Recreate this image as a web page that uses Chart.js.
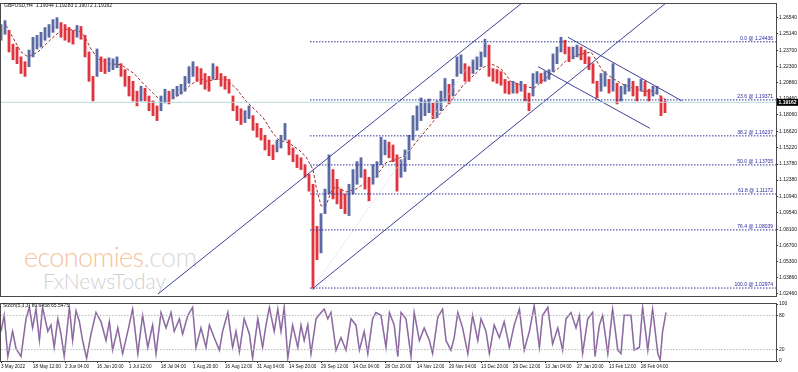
<!DOCTYPE html>
<html>
<head>
<meta charset="utf-8">
<script src="https://cdn.jsdelivr.net/npm/chart.js@4.4.0/dist/chart.umd.min.js"></script>
<style>
html, body { margin: 0; padding: 0; background: #fff; }
#wrap { position: relative; width: 798px; height: 372px; overflow: hidden; font-family: "Liberation Sans", Arial, sans-serif; }
#main { position: absolute; left: 0; top: 0; }
#osc { position: absolute; left: 0; top: 300px; }
.txt { position: absolute; white-space: nowrap; font-size: 5px; color: #111; }
.wm1 { position: absolute; left: 24px; top: 240px; font-family: Lato, "Open Sans", sans-serif; font-weight: 300; font-size: 27px; color: #f6c3a0; letter-spacing: -0.6px; }
.wm1 span { color: #dadada; }
.wm2 { position: absolute; left: 43px; top: 268px; font-family: Lato, "Open Sans", sans-serif; font-weight: 300; font-size: 21px; color: #d0d0d0; }
</style>
</head>
<body>
<div id="wrap">
  <div class="wm1">economies<span>.com</span></div>
  <div class="wm2">FxNewsToday</div>
  <canvas id="main" width="798" height="300"></canvas>
  <canvas id="osc" width="798" height="72"></canvas>
  <div class="txt" style="left:4px;top:2px;">GBPUSD,H4&nbsp; 1.19044 1.19283 1.19072 1.19162</div>
  <div class="txt" style="left:3px;top:302px;">Stoch(5,3,3) 80.6458 65.5475</div>
</div>
<script>
// GBPUSD H4, one column per 4px slot (roughly 8 H4 bars each)
const highs = [
  1.2594,1.2628,1.2543,1.2423,1.2398,1.2312,1.2270,1.2372,1.2483,1.2500,
  1.2526,1.2568,1.2594,1.2637,1.2654,1.2611,1.2594,1.2568,1.2543,1.2586,
  1.2577,1.2500,1.2355,1.2142,1.2381,1.2312,1.2295,1.2304,1.2295,1.2312,
  1.2253,1.2201,1.2142,1.2099,1.2013,1.2056,1.2039,1.1971,1.1928,1.1885,
  1.1971,1.2030,1.2013,1.2030,1.2056,1.2073,1.2142,1.2227,1.2270,1.2227,
  1.2210,1.2167,1.2142,1.2253,1.2227,1.2167,1.2142,1.2116,1.1971,1.1885,
  1.1860,1.1843,1.1885,1.1800,1.1732,1.1689,1.1629,1.1587,1.1544,1.1587,
  1.1629,1.1732,1.1587,1.1518,1.1458,1.1433,1.1373,1.1288,1.1202,1.0835,
  1.0946,1.1160,1.1458,1.1330,1.1245,1.1160,1.1117,1.1202,1.1330,1.1399,
  1.1433,1.1330,1.1262,1.1373,1.1399,1.1612,1.1587,1.1569,1.1544,1.1458,
  1.1416,1.1501,1.1629,1.1800,1.1885,1.1954,1.1928,1.1945,1.1911,1.1928,
  1.2013,1.2124,1.2073,1.2116,1.2312,1.2329,1.2253,1.2227,1.2287,1.2312,
  1.2355,1.2466,1.2415,1.2210,1.2201,1.2184,1.2116,1.2099,1.2099,1.2082,
  1.2099,1.2073,1.1996,1.2167,1.2184,1.2167,1.2184,1.2201,1.2338,1.2398,
  1.2483,1.2457,1.2398,1.2398,1.2415,1.2398,1.2372,1.2312,1.2253,1.2099,
  1.2167,1.2184,1.2116,1.2253,1.2082,1.2056,1.2073,1.2124,1.2099,1.2056,
  1.2116,1.2099,1.2030,1.2056,1.2056,1.1971,1.1928
];
const lows = [
  1.2457,1.2509,1.2355,1.2287,1.2253,1.2167,1.2142,1.2227,1.2312,1.2381,
  1.2398,1.2457,1.2483,1.2526,1.2560,1.2483,1.2457,1.2440,1.2423,1.2483,
  1.2466,1.2312,1.2099,1.1928,1.2142,1.2184,1.2167,1.2184,1.2201,1.2218,
  1.2142,1.2056,1.1971,1.1928,1.1885,1.1928,1.1928,1.1843,1.1800,1.1757,
  1.1843,1.1911,1.1902,1.1945,1.1971,1.1988,1.2013,1.2082,1.2142,1.2099,
  1.2073,1.2030,1.2013,1.2116,1.2116,1.2056,1.2030,1.1996,1.1843,1.1757,
  1.1723,1.1740,1.1774,1.1672,1.1612,1.1587,1.1501,1.1450,1.1416,1.1484,
  1.1518,1.1587,1.1458,1.1399,1.1347,1.1330,1.1262,1.1142,1.0289,1.0545,
  1.0604,1.0946,1.1117,1.1074,1.1031,1.0989,1.0946,1.0929,1.1117,1.1202,
  1.1262,1.1160,1.1057,1.1202,1.1262,1.1373,1.1458,1.1433,1.1399,1.1142,
  1.1262,1.1313,1.1416,1.1587,1.1672,1.1757,1.1800,1.1826,1.1774,1.1783,
  1.1843,1.1928,1.1902,1.1971,1.2142,1.2167,1.2099,1.2099,1.2167,1.2201,
  1.2227,1.2312,1.2142,1.2099,1.2082,1.2065,1.1996,1.1988,1.1996,1.1996,
  1.2013,1.1928,1.1843,1.1971,1.2082,1.2082,1.2099,1.2116,1.2184,1.2253,
  1.2355,1.2338,1.2270,1.2295,1.2312,1.2287,1.2253,1.2201,1.2082,1.1954,
  1.2013,1.2056,1.1996,1.2013,1.1902,1.1928,1.1988,1.2013,1.1971,1.1928,
  1.2013,1.1971,1.1928,1.1971,1.1988,1.1800,1.1826
];

// moving average (dashed)
const maPos = [1.25,5,6.75,9.25,12.5,15,16.75,19.25,20.75,22.5,24.25,26.75,30,33.25,35.75,39.25,40.75,42.5,45,47.5,
  50,51.25,53.75,56.25,58.75,61.25,63,65.5,68,69.5,72,74.5,76.25,78,78.75,80,81.25,82.5,83.75,86.25,
  88.75,91.25,93.75,96.25,98.75,101.25,104.25,108.25,112.5,115.75,120,122.5,125,127.5,130.75,133.25,135.75,139.25,141.75,144.25,
  147.5,148.75,150.5,153,155.5,158,160.5,163,165.5,166.75];
const maVal = [1.2586,1.2355,1.2312,1.2355,1.2466,1.2543,1.2551,1.2543,1.2500,1.2381,1.2295,1.2253,1.2244,1.2167,1.2073,1.1954,1.1911,1.1945,1.1988,1.2073,
  1.2124,1.2099,1.2116,1.2116,1.2039,1.1928,1.1868,1.1783,1.1646,1.1587,1.1561,1.1501,1.1441,1.1330,1.1185,1.1014,1.1014,1.1134,1.1185,1.1134,
  1.1160,1.1219,1.1270,1.1390,1.1416,1.1458,1.1587,1.1757,1.1928,1.2073,1.2210,1.2253,1.2210,1.2099,1.2056,1.2039,1.2116,1.2210,1.2295,1.2329,
  1.2355,1.2287,1.2184,1.2124,1.2073,1.2039,1.2013,1.2013,1.1954,1.1928];

// drawn objects: [x1, p1, x2, p2]
const channelLines = [
  [39.25, 1.0246, 130.25, 1.2782],
  [77.75, 1.0288, 166.25, 1.2782],
  [141.75, 1.2483, 170.25, 1.1928],
  [134.25, 1.2227, 162.25, 1.1689]
];
const fibStart = 77.25;
const fibNames = ["0.0", "23.6", "38.2", "50.0", "61.8", "76.4", "100.0"];
const fibPrices = [1.24436, 1.19371, 1.16237, 1.13705, 1.11172, 1.08039, 1.02974];
const fibBase = [77.75, 1.0289, 121.5, 1.2466];
const lastPrice = 1.19162;

const priceTicks = [1.26540,1.25140,1.23700,1.22300,1.20860,1.19460,1.18060,1.16620,1.15220,1.13780,
  1.12380,1.10940,1.09540,1.08100,1.06700,1.05300,1.03860,1.02460];
const timeLabels = ["3 May 2022","18 May 12:00","2 Jun 04:00","16 Jun 20:00","1 Jul 12:00","18 Jul 04:00",
  "1 Aug 20:00","16 Aug 12:00","31 Aug 04:00","14 Sep 20:00","29 Sep 12:00","14 Oct 04:00","28 Oct 20:00",
  "14 Nov 12:00","29 Nov 04:00","13 Dec 20:00","29 Dec 12:00","13 Jan 04:00","27 Jan 20:00","13 Feb 12:00","28 Feb 04:00"];

// stochastic %K turning points
const stochPos = [0,0.8,1.7,2.9,3.75,5,6.25,7.1,7.9,8.75,9.6,10.4,11.7,12.5,13.3,14.2,15,15.8,17.1,17.9,
  18.75,19.6,20.4,21.4,22.5,23.75,25,26.25,27.1,27.9,29.2,30.4,31.7,32.9,34.2,35.4,36.7,37.9,38.75,40,
  41.25,42.5,43.3,44.6,45.4,46.7,47.9,48.75,50,51.25,52.1,53.3,54.6,55.4,56.7,57.9,58.75,59.6,60.8,62.1,
  62.9,64.2,65.4,66.25,67.1,68.3,69.2,70,70.8,71.7,72.9,74.2,75,75.8,76.7,77.5,78.75,80,80.8,81.7,
  82.5,83.75,85,86.25,87.5,88.75,89.6,90.8,91.7,92.9,93.75,95,96.25,97.1,98.3,99.2,
  100,101.25,102.5,103.3,104.6,105.8,107.1,107.9,109.2,110.4,111.25,112.5,113.3,114.2,115.4,116.7,117.9,119.2,120,121.25,
  122.1,123.3,124.6,125.8,127.1,128.3,129.6,130.8,132.1,133.3,134.6,135.4,136.7,137.9,139.2,140.4,141.25,142.5,143.75,144.6,
  145.4,146.7,147.9,148.5,149.6,150.4,151.7,152.9,154.2,155,155.8,157.5,158.3,159.6,160.4,161.7,162.9,164.2,164.8,165.4,166.25];
const stochMain = [52,80,8,52,22,8,74,94,58,91,36,94,52,63,24,74,47,8,94,36,
  88,69,36,5,47,85,69,36,69,19,58,13,52,91,13,80,24,63,13,85,
  58,85,52,74,47,80,94,24,58,24,63,41,19,52,85,24,52,16,74,47,
  5,74,24,63,94,52,91,52,94,5,63,24,63,36,63,13,74,85,91,74,
  85,19,41,19,74,63,19,52,13,74,85,80,24,85,63,8,
  85,74,8,85,36,58,36,13,77,91,36,19,41,85,58,13,80,36,74,52,
  13,63,41,69,24,63,91,19,52,97,24,80,94,30,58,19,74,85,58,80,
  13,74,85,8,63,80,13,91,19,13,80,80,19,24,94,19,91,13,2,52,85];
const stochLevels = [20, 80];

const X_MIN = 0, X_MAX = 193.75;
const FONT = "Liberation Sans";

const candles = highs.map((h, i) => ({ x: i, y: [lows[i], h] }));
const candleColors = highs.map((h, i) =>
  i > 0 && (h + lows[i]) < (highs[i - 1] + lows[i - 1]) ? "#e0343f" : "#5c6aa4");

const lineSet = (pts, color, extra) => Object.assign({
  type: "line", data: pts, borderColor: color, borderWidth: 1,
  pointRadius: 0, tension: 0, fill: false
}, extra || {});

const framePlugin = {
  id: "frame",
  afterDraw(chart) {
    const { ctx, chartArea: a } = chart;
    ctx.save();
    ctx.strokeStyle = "#4a4a4a";
    ctx.lineWidth = 1;
    ctx.strokeRect(a.left - 0.5, a.top - 0.5, a.right - a.left + 1, a.bottom - a.top + 1);
    ctx.restore();
  }
};

const fibTextPlugin = {
  id: "fibText",
  afterDatasetsDraw(chart) {
    const { ctx, chartArea: a, scales } = chart;
    ctx.save();
    ctx.font = "5px " + FONT;
    ctx.fillStyle = "#26269a";
    ctx.textAlign = "right";
    ctx.textBaseline = "bottom";
    fibPrices.forEach((p, k) => {
      const y = scales.y.getPixelForValue(p);
      ctx.fillText(fibNames[k] + " @ " + p.toFixed(5), a.right - 3, y - 0.5);
    });
    // last price box on the axis
    const y = scales.y.getPixelForValue(lastPrice);
    ctx.fillStyle = "#000";
    ctx.fillRect(a.right + 1, y - 3.5, 21, 7);
    ctx.fillStyle = "#fff";
    ctx.textAlign = "left";
    ctx.textBaseline = "middle";
    ctx.font = "bold 5px " + FONT;
    ctx.fillText(lastPrice.toFixed(5), a.right + 2.5, y + 0.5);
    ctx.restore();
  }
};

const mainSets = [];
mainSets.push(lineSet([{ x: X_MIN, y: lastPrice }, { x: X_MAX, y: lastPrice }], "#b5dada"));
fibPrices.forEach(p => mainSets.push(lineSet([{ x: fibStart, y: p }, { x: X_MAX, y: p }], "#30309c", { borderDash: [1.5, 1.5] })));
mainSets.push(lineSet([{ x: fibBase[0], y: fibBase[1] }, { x: fibBase[2], y: fibBase[3] }], "#d4d6e6", { borderDash: [1.5, 1.5] }));
channelLines.forEach(l => mainSets.push(lineSet([{ x: l[0], y: l[1] }, { x: l[2], y: l[3] }], "#40409a")));
mainSets.push({
  type: "bar", data: candles, backgroundColor: candleColors,
  barThickness: 2.2, borderWidth: 0, grouped: false
});
mainSets.push(lineSet(maPos.map((x, i) => ({ x, y: maVal[i] })), "#9c2a2a", { borderDash: [3, 2] }));

new Chart(document.getElementById("main"), {
  type: "bar",
  data: { datasets: mainSets },
  options: {
    responsive: false,
    animation: false,
    events: [],
    layout: { padding: { left: 1, top: 1, right: 0, bottom: 1 } },
    plugins: { legend: { display: false }, tooltip: { enabled: false } },
    scales: {
      x: { type: "linear", min: X_MIN, max: X_MAX, offset: false, display: false },
      y: {
        position: "right", min: 1.0228, max: 1.2773,
        afterFit(s) { s.width = 22; },
        afterBuildTicks(s) { s.ticks = priceTicks.map(v => ({ value: v })); },
        ticks: { autoSkip: false, padding: 1, color: "#111", font: { size: 5, family: FONT }, callback: v => Number(v).toFixed(5) },
        grid: { drawOnChartArea: false, tickLength: 2, color: "#222" },
        border: { color: "#4a4a4a" }
      }
    }
  },
  plugins: [framePlugin, fibTextPlugin]
});

const stochPts = stochPos.map((x, i) => ({ x, y: stochMain[i] }));
const oscSets = stochLevels.map(v => lineSet([{ x: X_MIN, y: v }, { x: X_MAX, y: v }], "#b8b8b8", { borderDash: [1.5, 1.5] }));
oscSets.push(lineSet(stochPts, "rgba(150,150,215,0.6)", { borderWidth: 1.8 }));
oscSets.push(lineSet(stochPts, "#7a1232", { borderWidth: 1.1 }));

new Chart(document.getElementById("osc"), {
  type: "line",
  data: { datasets: oscSets },
  options: {
    responsive: false,
    animation: false,
    events: [],
    layout: { padding: { left: 1, top: 1, right: 0, bottom: 0 } },
    plugins: { legend: { display: false }, tooltip: { enabled: false } },
    scales: {
      x: {
        type: "linear", min: X_MIN, max: X_MAX, offset: false,
        afterFit(s) { s.height = 11; },
        afterBuildTicks(s) { s.ticks = timeLabels.map((t, k) => ({ value: k * 8 })); },
        ticks: { autoSkip: false, maxRotation: 0, align: "start", padding: 1, color: "#111",
          font: { size: 4.6, family: FONT }, callback: (v, i) => timeLabels[i] },
        grid: { drawOnChartArea: false, tickLength: 2, color: "#222" },
        border: { color: "#4a4a4a" }
      },
      y: {
        position: "right", min: 0, max: 100,
        afterFit(s) { s.width = 22; },
        afterBuildTicks(s) { s.ticks = [0, 20, 80, 100].map(v => ({ value: v })); },
        ticks: { autoSkip: false, padding: 1, color: "#111", font: { size: 5, family: FONT } },
        grid: { drawOnChartArea: false, tickLength: 2, color: "#222" },
        border: { color: "#4a4a4a" }
      }
    }
  },
  plugins: [framePlugin]
});
</script>
</body>
</html>
